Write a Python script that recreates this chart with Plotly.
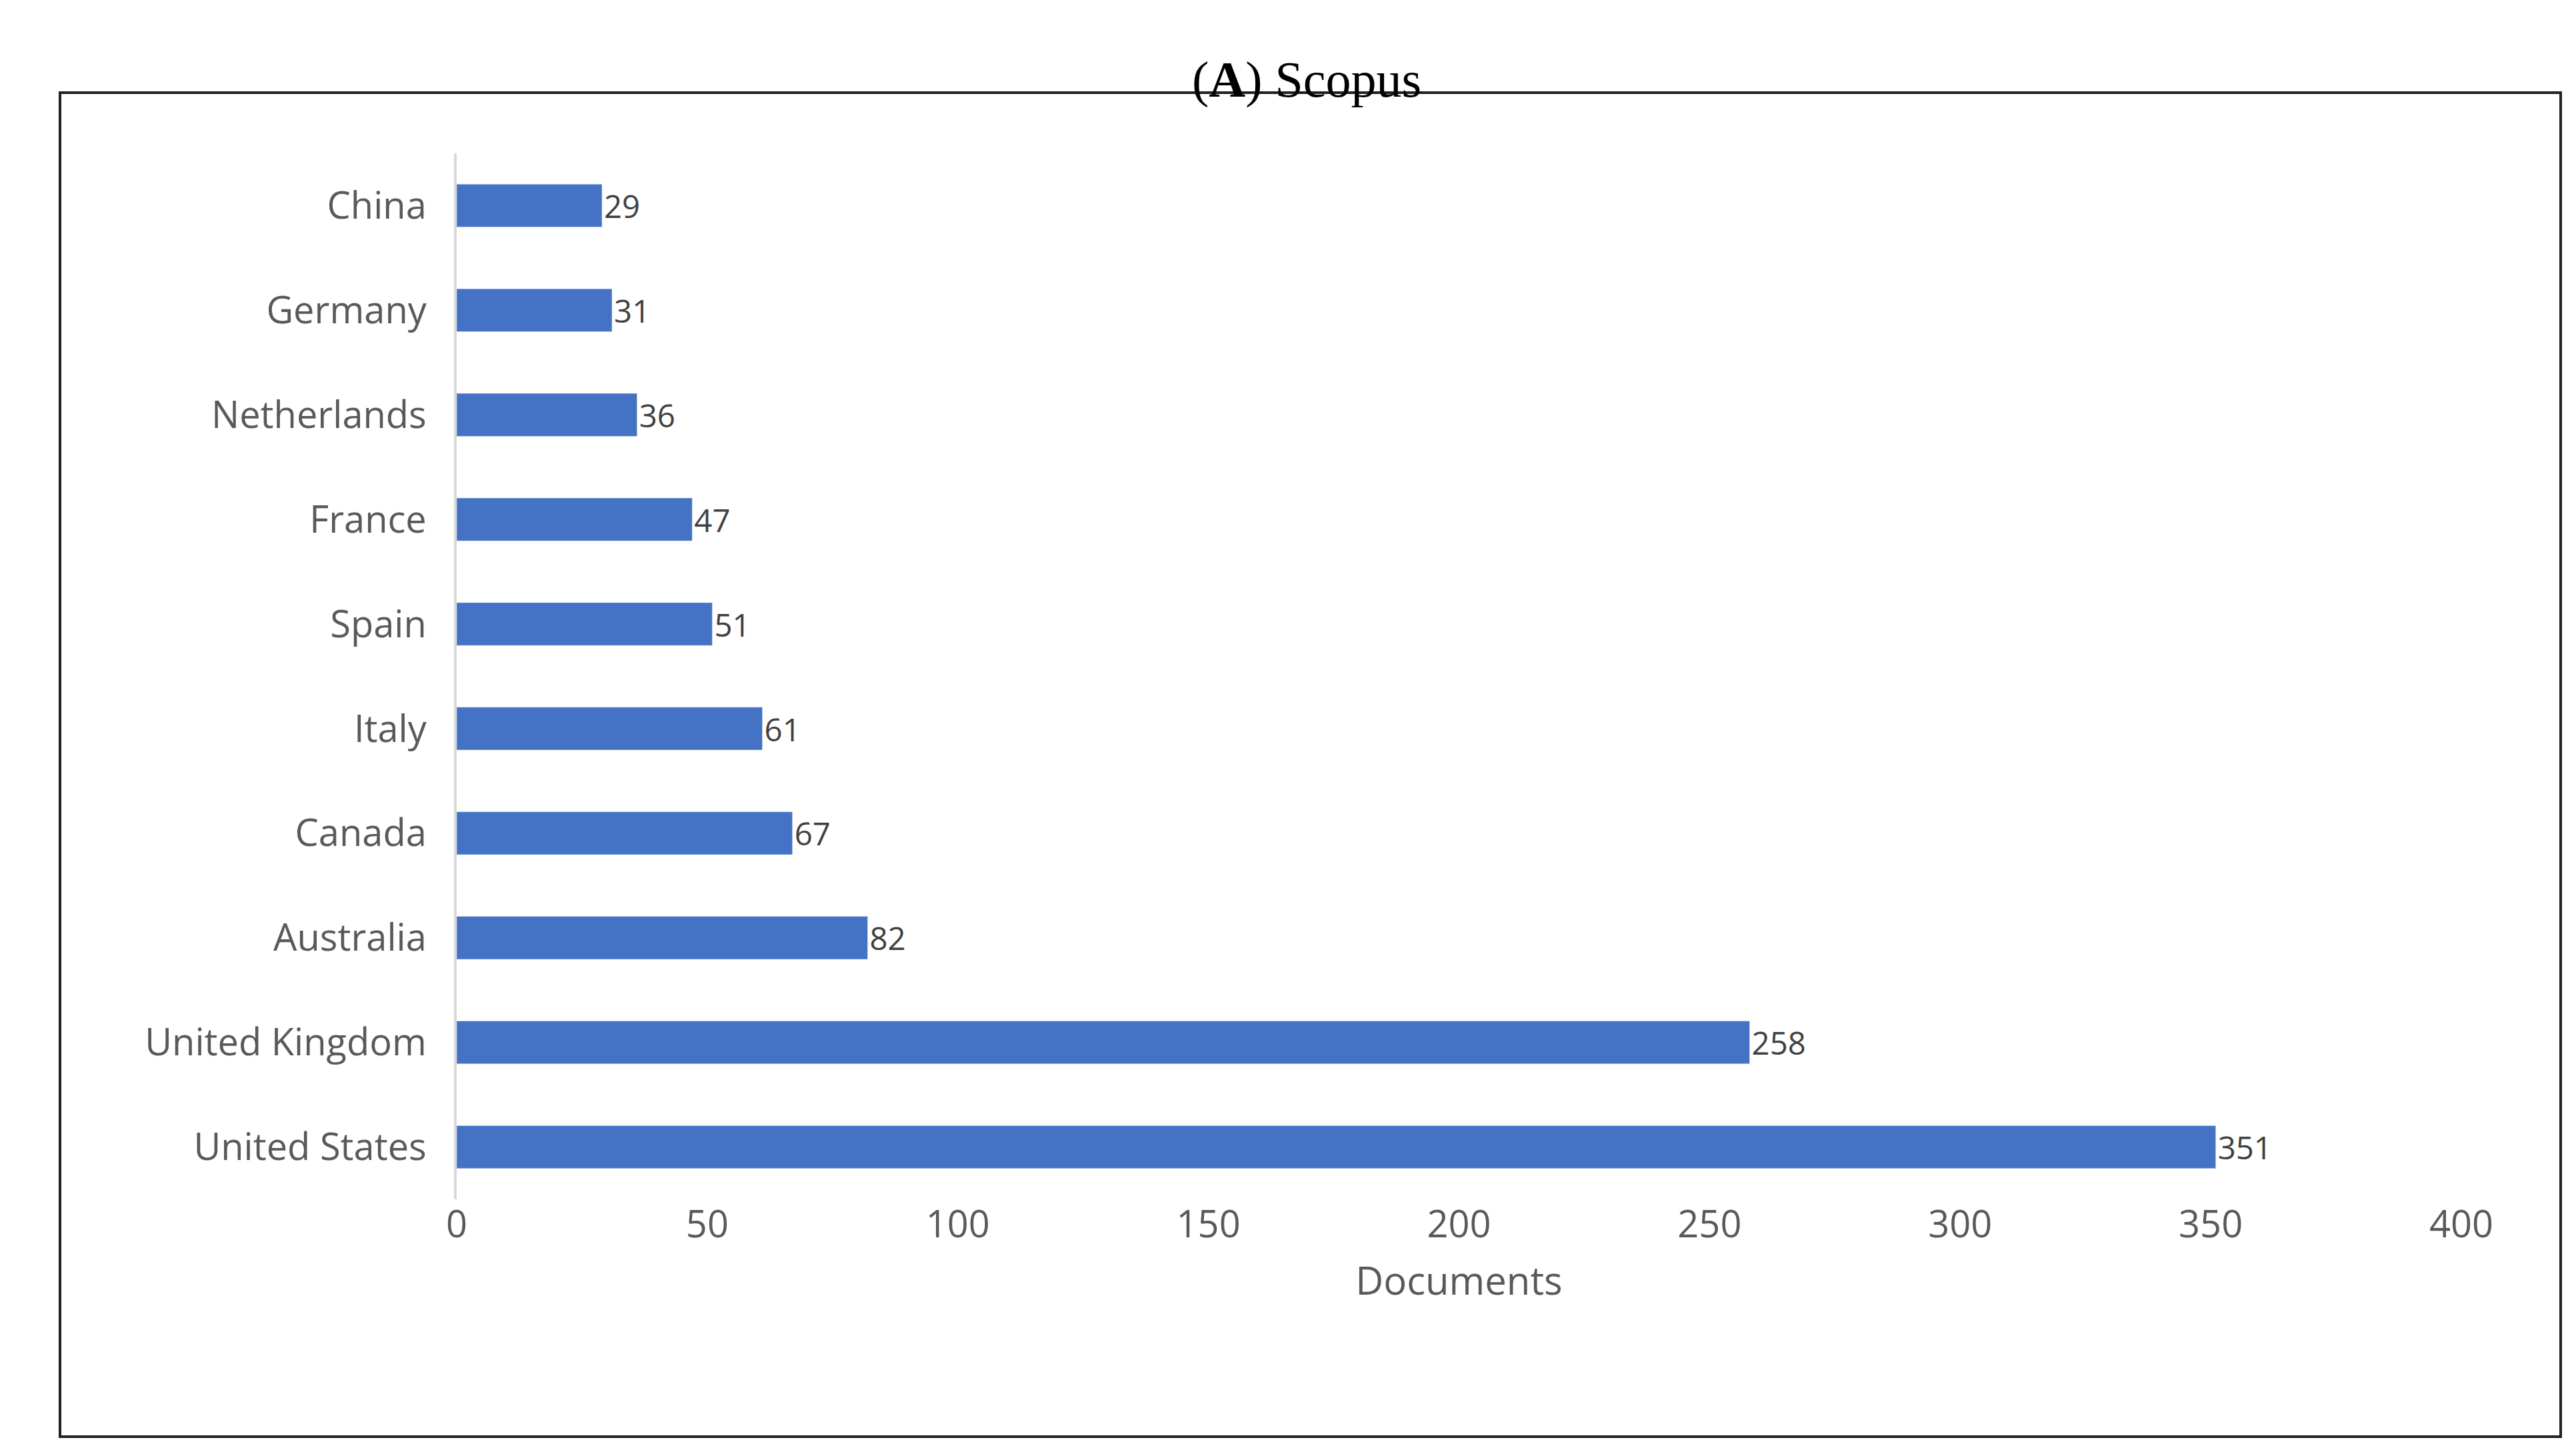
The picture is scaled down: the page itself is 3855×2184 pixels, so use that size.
import plotly.graph_objects as go

countries = ["United States", "United Kingdom", "Australia", "Canada", "Italy",
             "Spain", "France", "Netherlands", "Germany", "China"]
documents = [351, 258, 82, 67, 61, 51, 47, 36, 31, 29]
x_ticks = [0, 50, 100, 150, 200, 250, 300, 350, 400]

W, H = 3855, 2184
L, R, T, B = 677, 171, 222, 393
pw, ph = W - L - R, H - T - B

def px(x): return (x - L) / pw
def py(y): return (H - B - y) / ph

fig = go.Figure(go.Bar(
    x=documents, y=countries, orientation="h",
    marker_color="#4472C4", text=[str(v) for v in documents],
    textposition="outside", textfont=dict(size=56, color="#404040"),
    cliponaxis=False,
))
fig.update_layout(
    width=W, height=H, plot_bgcolor="white", paper_bgcolor="white",
    margin=dict(l=L, r=R, t=T, b=B), bargap=0.59, showlegend=False,
    font=dict(family="Open Sans", size=56, color="#595959"),
    xaxis=dict(range=[0, 400], tickvals=x_ticks, showgrid=False, zeroline=False,
               showline=False, ticks="", title=dict(text="Documents", font=dict(size=58, color="#595959"), standoff=30)),
    yaxis=dict(showgrid=False, showline=True, linecolor="#d9d9d9", linewidth=4,
               ticks="", ticklabelstandoff=30, categoryorder="array", categoryarray=countries,
               range=[-0.5, 9.5]),
    shapes=[dict(type="rect", xref="paper", yref="paper",
                 x0=px(82), x1=px(3833), y0=py(2147), y1=py(131),
                 line=dict(color="#222222", width=4))],
    annotations=[dict(text="(<b>A</b>) Scopus", xref="paper", yref="paper",
                      x=px(1952), y=py(67), showarrow=False,
                      font=dict(family="Liberation Serif", size=76, color="black"))],
)
fig.write_html("out.html")
